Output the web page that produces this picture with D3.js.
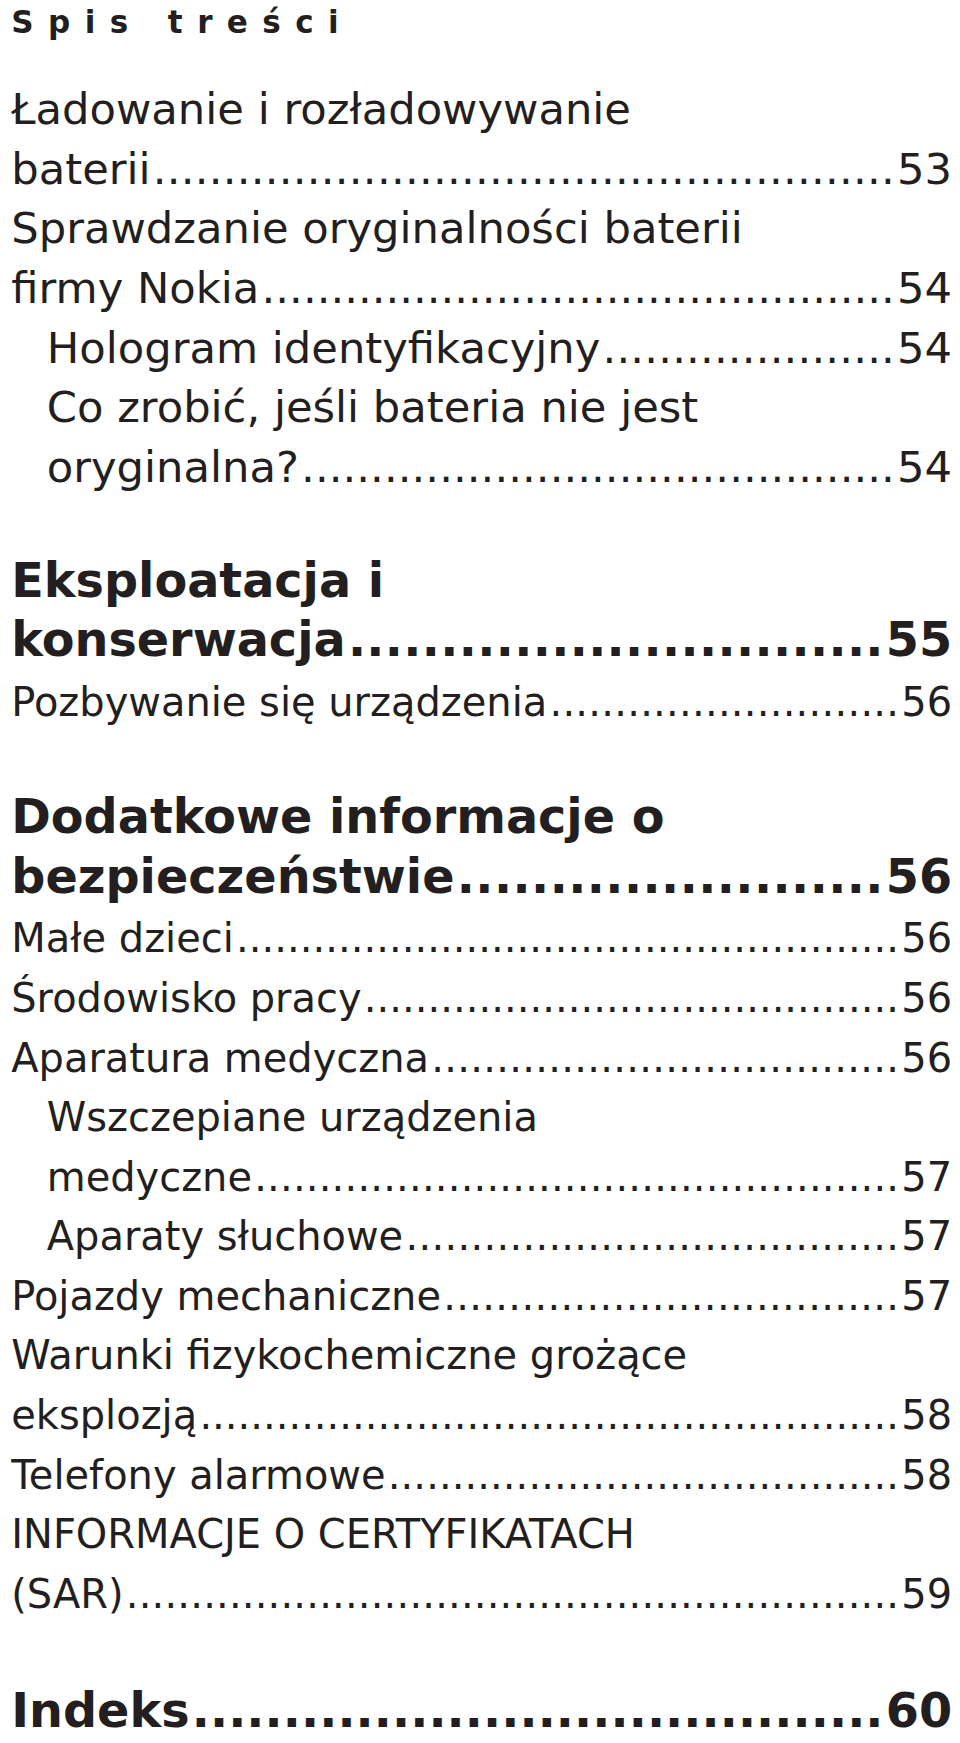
<!DOCTYPE html>
<html><head><meta charset="utf-8">
<script src="https://cdn.jsdelivr.net/npm/d3@7"></script>
<style>body{margin:0;background:#fff}</style></head>
<body><svg id="c" width="960" height="1743" viewBox="0 0 865 1571"></svg>
<script>
const title = "Spis treści";
const rowText = ["Ładowanie i rozładowywanie","baterii","Sprawdzanie oryginalności baterii","firmy Nokia","Hologram identyfikacyjny","Co zrobić, jeśli bateria nie jest","oryginalna?",
"Eksploatacja i","konserwacja","Pozbywanie się urządzenia",
"Dodatkowe informacje o","bezpieczeństwie","Małe dzieci","Środowisko pracy","Aparatura medyczna","Wszczepiane urządzenia","medyczne","Aparaty słuchowe","Pojazdy mechaniczne","Warunki fizykochemiczne grożące","eksplozją","Telefony alarmowe","INFORMACJE O CERTYFIKATACH","(SAR)","Indeks"];
const rowPage = ["","53","","54","54","","54","","55","56","","56","56","56","56","","57","57","57","","58","58","","59","60"];
const rowLevel = [0,0,0,0,1,1,1, 0,0,0, 0,0,0,0,0,1,1,1,0,0,0,0,0,0,0];
const rowKind = ["a","a","a","a","a","a","a","h","h","s","h","h","s","s","s","s","s","s","s","s","s","s","s","s","h"];
const rowSection = [0,0,0,0,0,0,0,1,1,1,2,2,2,2,2,2,2,2,2,2,2,2,2,2,3];

const svg = d3.select("#c");
const font = "'DejaVu Sans',sans-serif";
const sizes = {a:39, h:43, s:36};
const weights = {a:"normal", h:"bold", s:"normal"};
const y = d3.scaleLinear().domain([0,1]).range([112,165.7]);
const gap = [0,50,102,156];
const x0 = 10, xr = 858, indent = 32;

svg.append("text").attr("x",x0).attr("y",30).attr("font-family",font).attr("font-weight","bold")
  .attr("font-size",28).attr("letter-spacing",13).attr("fill","#231f20").text(title);

rowText.forEach((t,i)=>{
  const yy = y(i)+gap[rowSection[i]];
  const fs = sizes[rowKind[i]], fw = weights[rowKind[i]];
  const g = svg.append("g").attr("font-family",font).attr("font-size",fs).attr("font-weight",fw).attr("fill","#231f20");
  const tx = g.append("text").attr("x",x0+rowLevel[i]*indent).attr("y",yy).text(t);
  if(rowPage[i]){
    const pn = g.append("text").attr("x",xr).attr("y",yy).attr("text-anchor","end").text(rowPage[i]);
    const start = x0+rowLevel[i]*indent+tx.node().getComputedTextLength()+2;
    const end = xr - pn.node().getComputedTextLength()-2;
    const d = g.append("text").attr("y",yy).text(".");
    const dw = d.node().getComputedTextLength();
    const n = Math.max(0,Math.floor((end-start)/dw));
    d.attr("x",start).text(".".repeat(n)).attr("textLength",end-start).attr("lengthAdjust","spacing");
  }
});
</script></body></html>
